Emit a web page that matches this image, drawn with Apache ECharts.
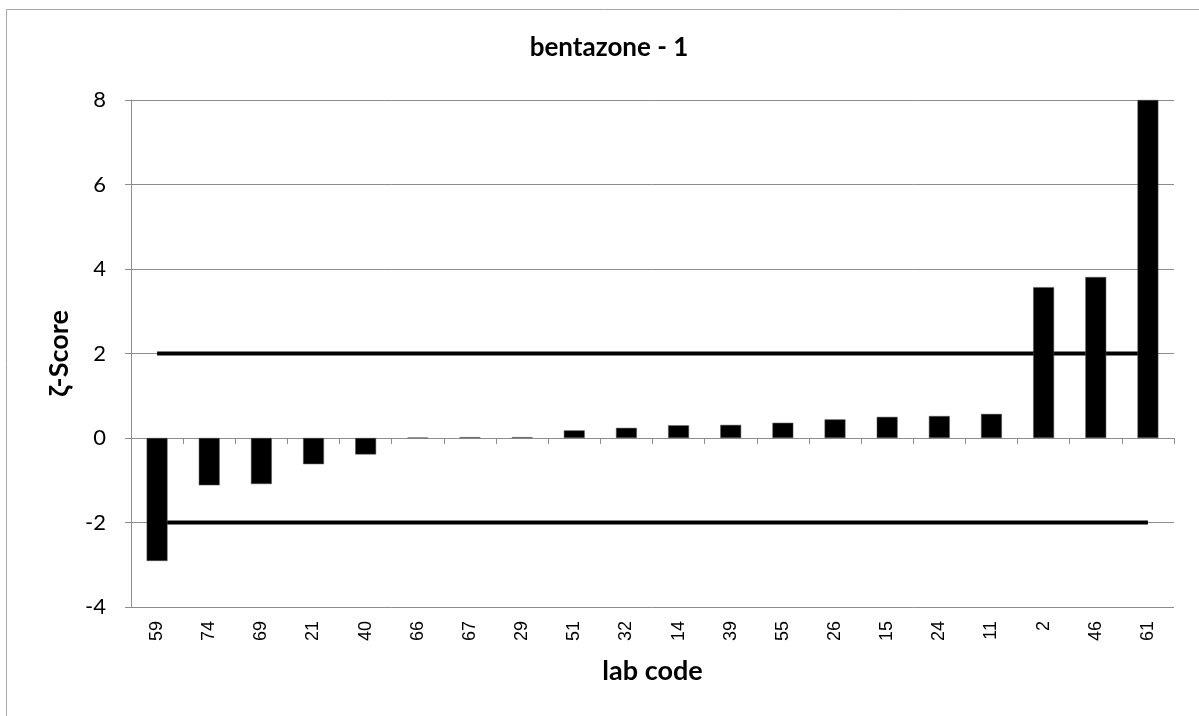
<!DOCTYPE html>
<html>
<head>
<meta charset="utf-8">
<script src="https://cdn.jsdelivr.net/npm/echarts@6/dist/echarts.min.js"></script>
<style>
html,body{margin:0;padding:0;background:#fff;}
#chart{width:1199px;height:716px;}
</style>
</head>
<body>
<div id="chart"></div>
<script>
const titleText = 'bentazone - 1';
const xAxisName = 'lab code';
const yAxisName = 'ζ-Score';
const labCodes = ['59','74','69','21','40','66','67','29','51','32','14','39','55','26','15','24','11','2','46','61'];
const zScores = [-2.91,-1.12,-1.09,-0.62,-0.39,0.01,0.02,0.02,0.18,0.24,0.30,0.31,0.36,0.44,0.50,0.52,0.57,3.57,3.81,8.0];
const upperLimit = labCodes.map(() => 2);
const lowerLimit = labCodes.map(() => -2);
const yTicks = {min: -4, max: 8, interval: 2};

const chart = echarts.init(document.getElementById('chart'));
const grey = '#8c8c8c';
chart.setOption({
  animation: false,
  backgroundColor: '#fff',
  graphic: [{
    type: 'rect', shape: {x: 6.5, y: 9.5, width: 1250, height: 800},
    style: {fill: 'none', stroke: '#a6a6a6', lineWidth: 1}, silent: true
  }],
  title: {
    text: titleText, left: 604, top: 30, textAlign: 'center',
    textStyle: {fontFamily: 'Lato', fontWeight: 'bold', fontSize: 26, color: '#000'}
  },
  grid: {left: 131, right: 25, top: 100, bottom: 109},
  xAxis: [{
    type: 'category', data: labCodes, position: 'bottom',
    axisLine: {onZero: true, lineStyle: {color: grey, width: 1}},
    axisTick: {show: true, length: 6, lineStyle: {color: grey}},
    axisLabel: {show: false}, splitLine: {show: false}
  }, {
    type: 'category', data: labCodes, position: 'bottom',
    axisLine: {show: false, onZero: false}, axisTick: {show: false},
    axisLabel: {rotate: 90, margin: 14, fontFamily: 'Liberation Sans', fontSize: 18, color: '#000'},
    name: xAxisName, nameLocation: 'middle', nameGap: 51,
    nameTextStyle: {fontFamily: 'Lato', fontWeight: 'bold', fontSize: 27, color: '#000'}
  }],
  yAxis: {
    type: 'value', min: yTicks.min, max: yTicks.max, interval: yTicks.interval,
    axisLine: {show: true, lineStyle: {color: grey}},
    axisTick: {show: true, length: 6, lineStyle: {color: grey}},
    axisLabel: {fontFamily: 'Lato', fontSize: 22, color: '#000', margin: 25},
    splitLine: {lineStyle: {color: grey, width: 1}},
    name: yAxisName, nameLocation: 'middle', nameGap: 58, nameRotate: 90,
    nameTextStyle: {fontFamily: 'Lato', fontWeight: 'bold', fontSize: 27, color: '#000'}
  },
  series: [{
    type: 'bar', data: zScores, xAxisIndex: 0, barCategoryGap: '60%',
    itemStyle: {color: '#000', borderColor: '#555', borderWidth: 0.5}, z: 3
  }, {
    type: 'line', data: upperLimit, xAxisIndex: 0, symbol: 'none',
    lineStyle: {color: '#000', width: 4}, z: 2
  }, {
    type: 'line', data: lowerLimit, xAxisIndex: 0, symbol: 'none',
    lineStyle: {color: '#000', width: 4}, z: 2
  }]
});
</script>
</body>
</html>
